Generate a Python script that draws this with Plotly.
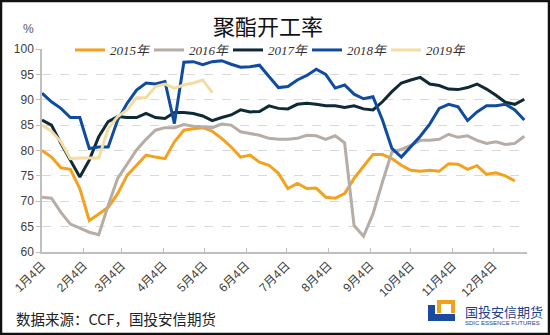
import pandas as pd
import plotly.graph_objects as go

# Weekly polyester plant operating rate (%), week 1 starting Jan 4
series_names = ["2015年", "2016年", "2017年", "2018年", "2019年"]

rate_2015 = [80.0, 78.7, 76.6, 76.3, 72.5, 66.2, 67.5, 68.8, 71.5, 75.1, 77.1, 79.1, 78.7,
             78.4, 81.7, 84.0, 84.3, 84.5, 83.8, 82.4, 80.7, 78.7, 79.1, 77.7, 77.1, 75.5,
             72.5, 73.5, 72.5, 72.6, 70.8, 70.6, 71.5, 74.5, 76.9, 79.2, 79.2, 78.4, 77.1,
             76.1, 75.9, 76.1, 75.9, 77.4, 77.3, 76.3, 77.0, 75.3, 75.6, 75.0, 74.0]
rate_2016 = [70.8, 70.6, 67.8, 65.5, 64.7, 63.9, 63.4, 69.2, 74.5, 77.4, 80.1, 82.2, 84.0,
             84.5, 84.5, 85.1, 84.8, 84.7, 84.5, 85.2, 85.0, 83.7, 83.4, 83.0, 82.4, 82.2,
             82.2, 82.4, 83.0, 82.9, 82.2, 82.9, 81.5, 65.2, 63.1, 67.5, 73.8, 79.7, 80.2,
             81.0, 82.0, 82.0, 82.2, 83.2, 82.6, 82.9, 82.0, 81.4, 81.7, 81.2, 81.4, 82.8]
rate_2017 = [86.0, 85.0, 81.4, 78.1, 74.8, 78.1, 82.7, 85.7, 86.7, 86.5, 86.5, 87.3, 86.5,
             86.3, 87.5, 87.5, 87.3, 86.8, 85.9, 86.5, 87.0, 88.0, 87.6, 87.7, 88.8, 88.3,
             88.2, 89.1, 89.3, 89.1, 88.8, 88.8, 88.5, 88.8, 88.2, 88.0, 89.6, 91.6, 93.3,
             93.9, 94.4, 93.1, 92.8, 92.1, 92.0, 92.4, 93.1, 92.1, 90.9, 89.5, 89.1, 90.1]
rate_2018 = [91.3, 89.6, 88.3, 86.5, 86.5, 80.4, 80.7, 80.7, 86.0, 89.3, 91.9, 93.3, 93.1,
             93.6, 85.3, 97.4, 97.5, 96.9, 97.5, 97.7, 97.0, 96.4, 96.5, 96.8, 94.6, 92.4,
             92.6, 93.9, 94.8, 96.0, 95.0, 92.3, 92.9, 91.1, 90.2, 90.6, 86.0, 80.4, 78.7,
             80.7, 82.8, 85.2, 88.3, 89.1, 88.6, 85.9, 87.6, 88.8, 88.8, 89.1, 88.0, 86.0]
rate_2019 = [85.0, 83.8, 81.7, 78.4, 78.5, 78.5, 78.5, 84.3, 86.7, 88.0, 90.4, 90.4, 92.6,
             93.1, 92.3, 92.9, 93.3, 93.9, 91.4]

colors = ["#F4A11D", "#B5ADA6", "#0F2A36", "#0F4C9F", "#F2DDA2"]

tick_dates = [f"2001-{m:02d}-04" for m in range(1, 13)]
tick_labels = [f"{m}月4日" for m in range(1, 13)]

weeks = pd.date_range("2001-01-04", periods=52, freq="7D")

W, H = 550, 335
L, R, T, B = 42, 23, 49, 83
PW, PH = W - L - R, H - T - B


def px(x):
    return (x - L) / PW


def py(y):
    return (H - B - y) / PH


fig = go.Figure()
for name, vals, col in zip(series_names,
                           [rate_2015, rate_2016, rate_2017, rate_2018, rate_2019],
                           colors):
    fig.add_trace(go.Scatter(x=weeks[:len(vals)], y=vals, name=name, mode="lines",
                             line=dict(color=col, width=3)))

tick_font = dict(family="Liberation Sans, Noto Sans CJK SC", size=12, color="#404040")

fig.update_layout(
    width=W, height=H,
    margin=dict(l=L, r=R, t=T, b=B),
    paper_bgcolor="white", plot_bgcolor="white",
    showlegend=True,
    legend=dict(orientation="h", x=px(70), y=py(50), xanchor="left", yanchor="middle",
                font=dict(family="Liberation Serif, Noto Sans CJK SC", size=13,
                          color="#333333", style="italic"),
                bgcolor="rgba(0,0,0,0)", itemwidth=30, entrywidth=34,
                entrywidthmode="pixels", tracegroupgap=0),
    xaxis=dict(type="date", range=["2001-01-04", "2001-12-29"],
               tickvals=tick_dates, ticktext=tick_labels, tickangle=-45,
               tickfont=dict(family="Liberation Sans, Noto Sans CJK SC", size=12,
                             color="#404040"),
               showgrid=False, showline=True, linecolor="#BFBFBF", linewidth=1.5,
               ticks="inside", ticklen=4, tickcolor="#BFBFBF", zeroline=False),
    yaxis=dict(range=[60, 100], tickvals=[60, 65, 70, 75, 80, 85, 90, 95, 100],
               tickfont=tick_font, showgrid=True, gridcolor="#D9D9D9", griddash="dash",
               gridwidth=1, showline=True, linecolor="#BFBFBF", linewidth=1.5,
               ticks="outside", ticklen=4, tickcolor="#BFBFBF", zeroline=False),
)

ann = [
    dict(text="聚酯开工率", x=px(268), y=py(25), xanchor="center", yanchor="middle",
         font=dict(family="Noto Sans CJK SC", size=22, color="#111111")),
    dict(text="%", x=px(28), y=py(29), xanchor="center", yanchor="middle",
         font=dict(family="Liberation Sans", size=12, color="#555555")),
    dict(text="数据来源：CCF，国投安信期货", x=px(14), y=py(318), xanchor="left",
         yanchor="middle", font=dict(family="Noto Sans CJK SC", size=14.5, color="#222222")),
    dict(text="国投安信期货", x=px(463), y=py(311), xanchor="left", yanchor="middle",
         font=dict(family="Noto Sans CJK SC", size=13, color="#1B3F8F")),
    dict(text="SDIC ESSENCE FUTURES", x=px(463), y=py(323), xanchor="left",
         yanchor="middle", font=dict(family="Liberation Sans", size=6, color="#1B3F8F")),
]
for a in ann:
    a.update(xref="paper", yref="paper", showarrow=False)
fig.update_layout(annotations=ann)


def rect(x0, y0, x1, y1, **kw):
    return dict(type="rect", xref="paper", yref="paper",
                x0=px(x0), x1=px(x1), y0=py(y1), y1=py(y0), **kw)


shapes = [
    # white strip hiding the top gridline behind the legend entries
    rect(75, 46, 449, 54, fillcolor="white", line=dict(width=0), layer="between"),
    # logo mark
    rect(437, 300, 455, 313, fillcolor="#F0A01C", line=dict(width=0)),
    rect(441, 304, 451, 313, fillcolor="white", line=dict(width=0)),
    rect(428, 305, 435, 321, fillcolor="#1B4BA0", line=dict(width=0)),
    rect(428, 314, 455, 321, fillcolor="#1B4BA0", line=dict(width=0)),
    # outer frame
    rect(1, 1, 549, 334, fillcolor="rgba(0,0,0,0)", line=dict(color="#111111", width=2.5)),
]
fig.update_layout(shapes=shapes)

fig.write_html("out.html")
